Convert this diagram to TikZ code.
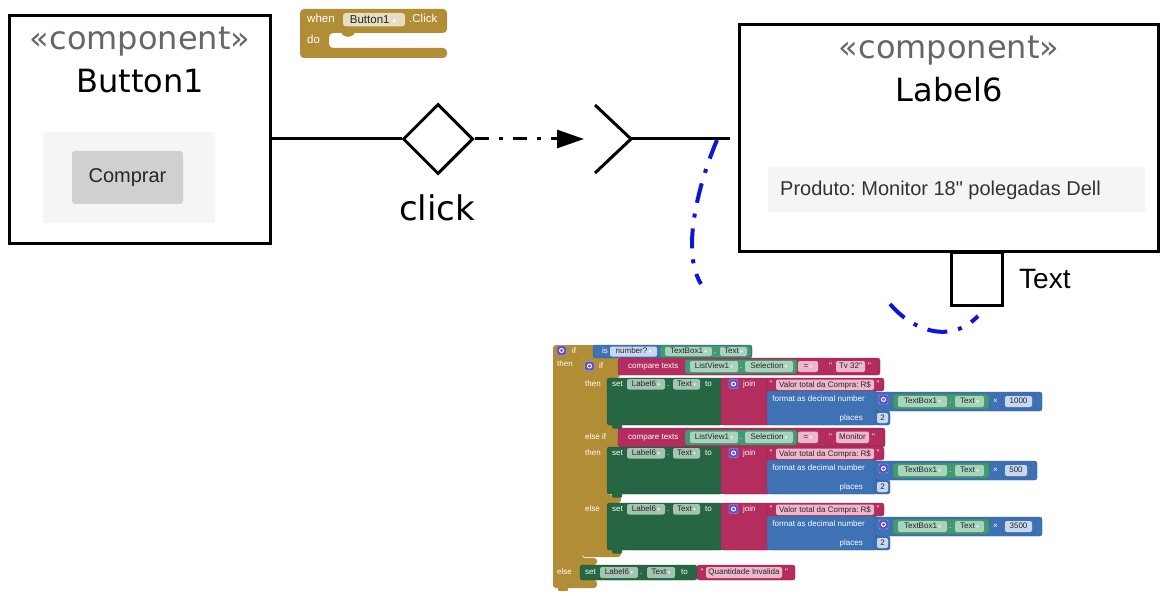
\documentclass[tikz,border=0pt]{standalone}
\usepackage{fontspec}
\setmainfont{DejaVu Sans}
\newfontfamily\uifont{Liberation Sans}
\newfontfamily\symfont{DejaVu Sans}
\usetikzlibrary{shapes.geometric,arrows.meta}

\definecolor{ctrl}{HTML}{B18E35}
\definecolor{mathc}{HTML}{3F71B5}
\definecolor{textc}{HTML}{B32D5E}
\definecolor{getc}{HTML}{439970}
\definecolor{setc}{HTML}{266643}
\definecolor{gearc}{HTML}{5A4FCF}
\definecolor{fgold}{HTML}{E7DDC3}
\definecolor{fget}{HTML}{A9D3BC}
\definecolor{fset}{HTML}{A3C4B2}
\definecolor{fpink}{HTML}{EDB8CB}
\definecolor{fblue}{HTML}{C9D8EF}
\definecolor{stereo}{HTML}{666666}
\definecolor{linkblue}{HTML}{0B16D9}
\definecolor{panel}{HTML}{F5F5F5}
\definecolor{btnfill}{HTML}{D0D0D0}

\newcommand\fs[1]{\fontsize{#1}{#1}\selectfont}
\newcommand\blk{\uifont\fs{8}}
\newcommand\dd{\hspace{1.5pt}{\symfont\fs{5}\textcolor{white}{▾}}}

\tikzset{
  umlbox/.style={draw=black, line width=3pt, fill=white, inner sep=0pt},
  wire/.style={draw=black, line width=3pt},
  umltext/.style={inner sep=0pt, font=\fs{32}},
  lbl/.style={font=\blk, text=white, anchor=west, inner sep=0pt, text height=6pt, text depth=1.5pt},
  ftxt/.style={font=\blk, text=black!85, inner sep=0pt, text height=6pt, text depth=1.5pt},
  flow/.style={draw=black, line width=3pt, dash pattern=on 14pt off 10pt on 4pt off 10pt,
    -{Triangle[length=27pt,width=18pt]}},
  trace/.style={draw=linkblue, line width=4pt, dash pattern=on 20pt off 11pt on 4pt off 11pt},
}

% a rounded block body
\newcommand\rblock[5]{\filldraw[fill=#5, draw=#5!80!black, line width=0.4pt, rounded corners=2.5pt] (#1,#2) rectangle (#3,#4);}
% an editable field with its text
\newcommand\fld[6]{\fill[#5, rounded corners=2pt] (#1,#2) rectangle (#3,#4);
  \node[ftxt] at ({(#1+#3)/2},{(#2+#4)/2}) {#6};}
% mutator icon
\newcommand\gearicon[2]{\filldraw[fill=gearc, draw=white!60!gearc, line width=0.4pt, rounded corners=1.2pt] (#1,#2) rectangle ++(9,9);
  \draw[white, line width=1pt] (#1+4.5,#2+4.5) circle (2pt);}
% set Label6.Text to join(..., format as decimal number(TextBox1.Text x n, 2))
\newcommand\setgroup[3]{%
  \begin{scope}[shift={(0,#1)}]
    \rblock{607}{378}{723}{425}{setc}
    \fill[setc, rounded corners=1pt] (612,424) rectangle (622,428.5);
    \node[lbl] at (612,384) {set};
    \fld{627}{379}{665}{389.5}{fset}{Label6\dd}
    \node[lbl] at (667,384) {.};
    \fld{673}{379}{700}{389.5}{fset}{Text\dd}
    \node[lbl] at (705,384) {to};
    \rblock{721}{378}{770}{425}{textc}
    \gearicon{729}{379.5}
    \node[lbl] at (743,384) {join};
    \rblock{767}{378}{884}{391}{textc}
    \node[lbl] at (769.5,384) {"};
    \fld{776}{379.5}{874}{390}{fpink}{Valor total da Compra: R\$}
    \node[lbl] at (876.5,384) {"};
    \rblock{767}{391}{877}{425}{mathc}
    \node[lbl, anchor=east] at (865,399) {format as decimal number};
    \node[lbl, anchor=east] at (863,418) {places};
    \rblock{875}{411}{890}{425}{mathc}
    \fld{877}{413}{888}{423}{fblue}{2}
    \rblock{875}{392}{#3}{411}{mathc}
    \gearicon{879}{395}
    \rblock{893}{394}{989}{409}{getc}
    \fld{898}{396}{947}{407}{fget}{TextBox1\dd}
    \node[lbl] at (949,401) {.};
    \fld{955}{396}{984}{407}{fget}{Text\dd}
    \node[lbl] at (993,401) {×};
    \rblock{1002}{394}{#3-6}{409}{mathc}
    \fld{1005}{396}{#3-10}{407}{fblue}{#2}
  \end{scope}}

\begin{document}
\frenchspacing
\begin{tikzpicture}[x=1pt,y=-1pt]
\fill[white] (0,0) rectangle (1167,596);
\useasboundingbox (0,0) rectangle (1167,596);

% ---------- components ----------
\node[umlbox, minimum width=261, minimum height=228] (btn) at (140,129.5) {};
\node[umlbox, minimum width=419, minimum height=227] (lab) at (949,138) {};

\node[umltext, text=stereo] (btnst) at (140,42) {«component»};
\node[umltext] (btnname) at (140,81) {Button1};
\node[umltext, text=stereo] (labst) at (949,51) {«component»};
\node[umltext] (labname) at (949,90) {Label6};

% screen previews
\fill[panel] (43,132) rectangle (215,223);
\node[fill=btnfill, rounded corners=3pt, minimum width=111, minimum height=53, inner sep=0pt,
  font=\uifont\fs{20}, text=black!85] (buy) at (127.5,177.5) {Comprar};
\fill[panel] (768,167) rectangle (1145,212);
\node[anchor=west, inner sep=0pt, font=\uifont\fs{20}, text=black!80] (shown) at (780,190)
  {Produto: Monitor 18" polegadas Dell};

% ---------- event port and flow ----------
\node[draw=black, line width=3pt, fill=white, shape=diamond, aspect=1,
  minimum width=70, minimum height=70, inner sep=0pt] (evt) at (438,139) {};
\draw[wire] (evt.west) -- (evt.west -| btn.east);
\node[umltext, font=\fs{34}] (evtname) at (437,208) {click};

\coordinate (tip) at (584,139);
\draw[flow] (evt.east) -- (tip);

\coordinate (sock) at (631,139);
\coordinate (sockA) at (595,105);
\coordinate (sockB) at (595,173);
\coordinate (sockEnd) at (730,139);
\draw[wire] (sockA) -- (sock) -- (sockB);
\draw[wire] (sock) -- (sockEnd);

% property port
\node[umlbox, minimum width=51, minimum height=53] (port) at (976.5,279) {};
\node[anchor=west, inner sep=0pt, font=\uifont\fs{28}] (portname) at (1019,279) {Text};

% trace links
\coordinate (t1) at (717,140);
\coordinate (t2) at (701,284);
\draw[trace] (t1) .. controls (700,180) and (680,250) .. (t2);
\coordinate (t3) at (890,304);
\coordinate (t4) at (978,316);
\draw[trace] (t3) .. controls (912,330) and (950,345) .. (t4);

% ---------- when Button1.Click ----------
\fill[ctrl, rounded corners=4pt] (300,9) -- (447,9) -- (447,33) -- (329,33) -- (329,48)
  -- (447,48) -- (447,58) -- (300,58) -- cycle;
\fill[ctrl] (341,32) .. controls (343,38.5) and (353,38.5) .. (355,32) -- cycle;
\node[lbl, font=\uifont\fs{11.5}] (when) at (307,20) {when};
\fill[fgold, rounded corners=3pt] (343,13) rectangle (405,26.5);
\node[inner sep=0pt, font=\uifont\fs{11.5}, text=black!85] (whenbtn) at (373,20) {Button1\hspace{3pt}{\symfont\fs{7}\textcolor{white}{▾}}};
\node[lbl, font=\uifont\fs{11.5}] (click) at (409,20) {.Click};
\node[lbl, font=\uifont\fs{11.5}] (do) at (307,41) {do};

% ---------- if / else if / else blocks ----------
\fill[ctrl, rounded corners=3pt] (553,345) -- (597,345) -- (597,358) -- (582,358) -- (582,558)
  -- (597,558) -- (597,565) -- (582,565) -- (582,580) -- (597,580) -- (597,588) -- (553,588) -- cycle;
\fill[ctrl, rounded corners=1pt] (558,587) rectangle (568,591);
\fill[ctrl, rounded corners=3pt] (582,358) -- (620,358) -- (620,378) -- (608,378) -- (608,425)
  -- (620,425) -- (620,447) -- (608,447) -- (608,495) -- (621,495) -- (621,503) -- (608,503)
  -- (608,550) -- (621,550) -- (621,557) -- (582,557) -- cycle;

\gearicon{557}{346}
\node[lbl] at (572,351) {if};
\node[lbl] at (557,364) {then};
\node[lbl] at (557,572) {else};

\rblock{593}{345}{752}{358}{mathc}
\node[lbl] at (602,351.5) {is};
\fld{610}{346.5}{657}{356.5}{fblue}{number?\dd}
\rblock{660}{345.5}{751}{357.5}{getc}
\fld{665}{347}{712}{356}{fget}{TextBox1\dd}
\node[lbl] at (714,351.5) {.};
\fld{720}{347}{747}{356}{fget}{Text\dd}

\gearicon{585}{361.5}
\node[lbl] at (599,366) {if};
\node[lbl] at (585,384) {then};
\node[lbl] at (585,437.5) {else if};
\node[lbl] at (585,453) {then};
\node[lbl] at (585,509) {else};

% compare texts (if)
\rblock{618}{358}{880}{375}{textc}
\node[lbl] at (628,366.5) {compare texts};
\rblock{685}{359.5}{797}{373.5}{getc}
\fld{690}{361}{738}{372}{fget}{ListView1\dd}
\node[lbl] at (740,366.5) {.};
\fld{745}{361}{793}{372}{fget}{Selection\dd}
\fld{798}{361}{818}{372}{fpink}{=\dd}
\rblock{826}{359.5}{878}{373.5}{textc}
\node[lbl] at (829,366.5) {"};
\fld{836}{361}{865}{372}{fpink}{Tv 32"}
\node[lbl] at (868,366.5) {"};

% compare texts (else if)
\rblock{618}{428}{885}{447}{textc}
\node[lbl] at (628,437.5) {compare texts};
\rblock{685}{430}{797}{445}{getc}
\fld{690}{431.5}{738}{443}{fget}{ListView1\dd}
\node[lbl] at (740,437.5) {.};
\fld{745}{431.5}{793}{443}{fget}{Selection\dd}
\fld{798}{431.5}{818}{443}{fpink}{=\dd}
\rblock{826}{429.5}{883}{445.5}{textc}
\node[lbl] at (829,437.5) {"};
\fld{836}{431.5}{869}{443}{fpink}{Monitor}
\node[lbl] at (872,437.5) {"};

\setgroup{0}{1000}{1042}
\setgroup{69}{500}{1037}
\setgroup{125}{3500}{1042}

% final else
\rblock{580}{565}{697}{580}{setc}
\node[lbl] at (585,572.5) {set};
\fld{600}{567}{638}{578}{fset}{Label6\dd}
\node[lbl] at (640,572.5) {.};
\fld{647}{567}{675}{578}{fset}{Text\dd}
\node[lbl] at (681,572.5) {to};
\rblock{697}{565}{795}{580}{textc}
\node[lbl] at (700.5,572.5) {"};
\fld{706}{567}{782}{578}{fpink}{Quantidade Invalida}
\node[lbl] at (785,572.5) {"};
\end{tikzpicture}
\end{document}
